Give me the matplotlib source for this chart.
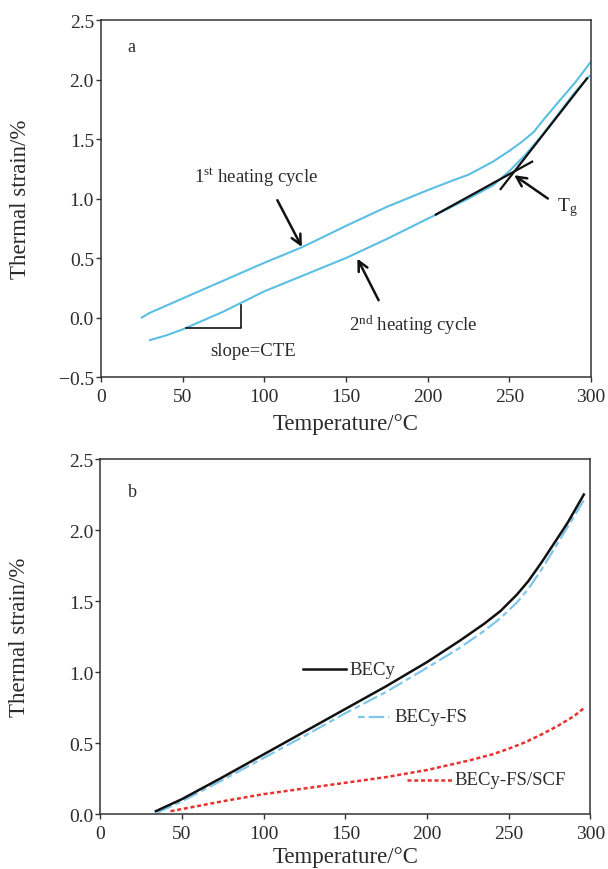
import numpy as np
import matplotlib
matplotlib.use('Agg')
import matplotlib.pyplot as plt

plt.rcParams['font.family'] = ['Liberation Serif', 'DejaVu Serif']
plt.rcParams['mathtext.fontset'] = 'custom'
plt.rcParams['mathtext.rm'] = 'Liberation Serif'
plt.rcParams['mathtext.it'] = 'Liberation Serif:italic'

# ---- panel a: two heating cycles ----
t_first = [25, 30, 50, 75, 100, 123, 150, 175, 200, 215, 225, 240, 250, 258, 265, 272, 280, 290, 300]
s_first = [0.0, 0.04, 0.16, 0.31, 0.46, 0.59, 0.77, 0.93, 1.07, 1.15, 1.20, 1.31, 1.40, 1.48, 1.56, 1.68, 1.81, 1.97, 2.15]

t_second = [30, 40, 50, 75, 100, 125, 150, 175, 200, 225, 240, 250, 260, 270, 280, 290, 299]
s_second = [-0.19, -0.15, -0.10, 0.05, 0.22, 0.36, 0.50, 0.66, 0.83, 1.00, 1.11, 1.23, 1.37, 1.53, 1.71, 1.89, 2.03]

# tangent lines used to pick Tg
tan_glass_t = [205, 264]
tan_glass_s = [0.865, 1.31]
tan_rubber_t = [244.7, 297.6]
tan_rubber_s = [1.08, 2.01]

# slope triangle
tri_t = [52, 86, 86]
tri_s = [-0.09, -0.09, 0.105]

# ---- panel b: three materials ----
t_becy = [34, 50, 75, 100, 125, 150, 175, 200, 220, 235, 245, 255, 262, 270, 278, 286, 296]
s_becy = [0.02, 0.105, 0.26, 0.42, 0.58, 0.74, 0.90, 1.07, 1.22, 1.34, 1.43, 1.545, 1.64, 1.77, 1.91, 2.05, 2.25]
t_fs = [35, 50, 75, 100, 125, 150, 175, 200, 220, 235, 245, 255, 262, 270, 278, 286, 296]
s_fs = [0.01, 0.09, 0.24, 0.395, 0.55, 0.71, 0.86, 1.03, 1.17, 1.29, 1.38, 1.49, 1.585, 1.72, 1.87, 2.02, 2.21]
t_scf = [43, 50, 75, 100, 125, 150, 175, 200, 225, 240, 250, 260, 270, 280, 290, 296]
s_scf = [0.02, 0.035, 0.09, 0.14, 0.18, 0.22, 0.26, 0.31, 0.375, 0.42, 0.46, 0.505, 0.56, 0.62, 0.69, 0.745]

blue = '#5bbfe4'
blue2 = '#80c6ea'
red = '#e8302c'
txt = '#2b2b2b'

fig = plt.figure(figsize=(6.08, 8.70), dpi=100)
ax1 = fig.add_axes([0.166, 0.5655, 0.806, 0.4103])
ax2 = fig.add_axes([0.165, 0.0632, 0.806, 0.408])

for ax in (ax1, ax2):
    for sp in ax.spines.values():
        sp.set_color('#333333')
        sp.set_linewidth(1.1)
    ax.tick_params(direction='out', length=3.5, width=1, colors='#333333',
                   labelcolor=txt, labelsize=14, top=False, right=False)
    ax.tick_params(axis='y', pad=1.5)
    ax.tick_params(axis='x', pad=4.5)
    ax.set_xlim(0, 300)
    ax.set_xticks([0, 50, 100, 150, 200, 250, 300])
    ax.set_ylabel('Thermal strain/%', fontsize=16.5, color=txt)
    ax.yaxis.set_label_coords(-0.143, 0.5)

ax1.set_xlabel('Temperature/°C', fontsize=16.5, color=txt, labelpad=6)
ax2.set_xlabel('Temperature/°C', fontsize=16.5, color=txt, labelpad=3)

# panel a
ax1.set_ylim(-0.5, 2.5)
ax1.set_yticks(np.arange(-0.5, 2.51, 0.5))
ax1.set_yticklabels(['\u22120.5', '0.0', '0.5', '1.0', '1.5', '2.0', '2.5'])
ax1.plot(t_first, s_first, color=blue, lw=1.5)
ax1.plot(t_second, s_second, color=blue, lw=1.5)
ax1.plot(tan_glass_t, tan_glass_s, color='#111111', lw=1.6)
ax1.plot(tan_rubber_t, tan_rubber_s, color='#111111', lw=1.6)
ax1.plot(tri_t, tri_s, color='#111111', lw=1.2)

arr = dict(arrowstyle='->, head_length=0.7, head_width=0.35', color='#111111', lw=1.8,
           shrinkA=0, shrinkB=0)
ax1.annotate('', xy=(123, 0.593), xytext=(108, 0.986), arrowprops=arr)
ax1.annotate('', xy=(157, 0.495), xytext=(170, 0.145), arrowprops=arr)
ax1.annotate('', xy=(253, 1.196), xytext=(273.6, 1.0), arrowprops=arr)

ax1.text(18.8, 2.28, 'a', fontsize=13, color=txt, ha='center', va='center')
ax1.text(57, 1.19, r'1$^{\mathrm{st}}$ heating cycle', fontsize=13.5, color=txt, va='center')
ax1.text(152, -0.06, r'2$^{\mathrm{nd}}$ heating cycle', fontsize=13.5, color=txt, va='center')
ax1.text(67, -0.28, 'slope=CTE', fontsize=13.5, color=txt, va='center')
ax1.text(279, 0.93, r'T$_{\mathrm{g}}$', fontsize=14, color=txt, va='center')

# panel b
ax2.set_ylim(0, 2.5)
ax2.set_yticks(np.arange(0, 2.51, 0.5))
ax2.set_yticklabels(['0.0', '0.5', '1.0', '1.5', '2.0', '2.5'])
ax2.plot(t_fs, s_fs, color=blue2, lw=1.6, dashes=[7, 1.8, 2.5, 1.8])
ax2.plot(t_becy, s_becy, color='#111111', lw=1.8)
ax2.plot(t_scf, s_scf, color=red, lw=1.8, dashes=[1.6, 1.1])

ax2.text(19.4, 2.27, 'b', fontsize=13, color=txt, ha='center', va='center')

# inline legend
ax2.plot([124, 150.5], [1.02, 1.02], color='#111111', lw=1.8)
ax2.text(152.5, 1.02, 'BECy', fontsize=13.5, color=txt, va='center')
ax2.plot([157.5, 176.5], [0.685, 0.685], color=blue2, lw=1.6, dashes=[3, 1.8, 7, 1.8])
ax2.text(180, 0.685, 'BECy-FS', fontsize=13.5, color=txt, va='center')
ax2.plot([187.5, 215], [0.24, 0.24], color=red, lw=1.8, dashes=[1.6, 1.1])
ax2.text(217, 0.24, 'BECy-FS/SCF', fontsize=13.5, color=txt, va='center')

fig.savefig('out.png', dpi=100)
